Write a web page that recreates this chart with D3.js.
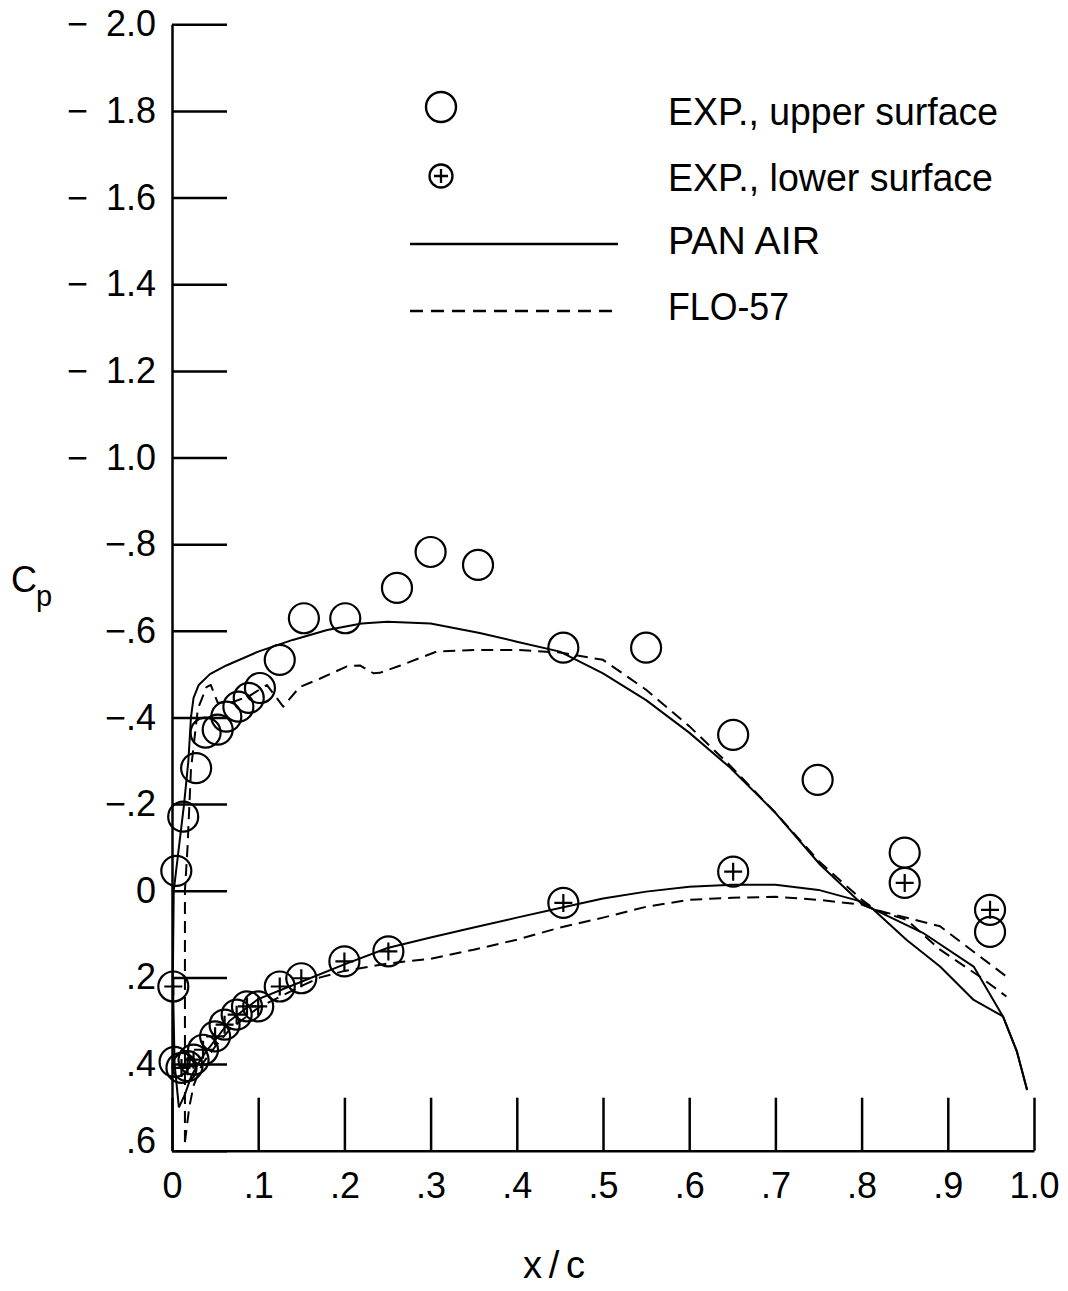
<!DOCTYPE html>
<html>
<head>
<meta charset="utf-8">
<script src="https://cdn.jsdelivr.net/npm/d3@7"></script>
<style>
  html, body { margin: 0; padding: 0; background: #fff; }
  svg { display: block; }
  text { font-family: "Liberation Sans", Arial, sans-serif; fill: #000; }
</style>
</head>
<body>
<svg id="chart" width="1068" height="1291"></svg>
<script>
// Chordwise pressure distribution, Cp vs x/c

// Experimental data, upper surface  [x/c, Cp]
const expUpper = [
  [0.003, 0.395], [0.005, -0.046], [0.013, -0.171], [0.028, -0.283],
  [0.039, -0.365], [0.053, -0.372], [0.063, -0.402], [0.077, -0.425],
  [0.089, -0.445], [0.102, -0.468], [0.125, -0.533], [0.153, -0.629],
  [0.201, -0.629], [0.261, -0.699], [0.300, -0.782], [0.355, -0.752],
  [0.454, -0.561], [0.550, -0.561], [0.651, -0.360], [0.749, -0.256],
  [0.850, -0.088], [0.949, 0.095]
];

// Experimental data, lower surface  [x/c, Cp]
const expLower = [
  [0.0015, 0.221], [0.011, 0.409], [0.018, 0.405], [0.025, 0.390],
  [0.036, 0.367], [0.050, 0.336], [0.061, 0.309], [0.075, 0.286],
  [0.087, 0.267], [0.100, 0.267], [0.125, 0.221], [0.150, 0.202],
  [0.200, 0.163], [0.251, 0.140], [0.454, 0.028], [0.651, -0.044],
  [0.850, -0.018], [0.949, 0.044]
];

// PAN AIR, upper surface
const panAirUpper = [
  [0.008, 0.50], [0.003, 0.40], [0.001, 0.20], [0.002, 0.00],
  [0.008, -0.10], [0.014, -0.20], [0.019, -0.30], [0.022, -0.40],
  [0.025, -0.445], [0.031, -0.475], [0.044, -0.500], [0.063, -0.520],
  [0.100, -0.552], [0.140, -0.579], [0.180, -0.602], [0.220, -0.617],
  [0.250, -0.621], [0.300, -0.617], [0.357, -0.595], [0.400, -0.575],
  [0.450, -0.552], [0.500, -0.502], [0.550, -0.440], [0.600, -0.365],
  [0.647, -0.285], [0.700, -0.180], [0.752, -0.060], [0.800, 0.030],
  [0.813, 0.042], [0.852, 0.113], [0.891, 0.175], [0.930, 0.252],
  [0.964, 0.290], [0.980, 0.370], [0.992, 0.460]
];

// PAN AIR, lower surface
const panAirLower = [
  [0.008, 0.50], [0.015, 0.47], [0.022, 0.43], [0.030, 0.40],
  [0.040, 0.37], [0.050, 0.345], [0.067, 0.300], [0.100, 0.250],
  [0.150, 0.210], [0.200, 0.170], [0.250, 0.132], [0.300, 0.108],
  [0.350, 0.085], [0.400, 0.062], [0.450, 0.040], [0.500, 0.018],
  [0.550, 0.002], [0.600, -0.009], [0.650, -0.014], [0.700, -0.014],
  [0.750, -0.002], [0.800, 0.025], [0.813, 0.042], [0.871, 0.097],
  [0.930, 0.175], [0.964, 0.290], [0.980, 0.370], [0.992, 0.460]
];

// FLO-57, upper surface
const flo57Upper = [
  [0.015, 0.58], [0.015, 0.30], [0.015, 0.00], [0.018, -0.10],
  [0.022, -0.28], [0.030, -0.42], [0.040, -0.470], [0.045, -0.475],
  [0.053, -0.434], [0.070, -0.435], [0.090, -0.450], [0.110, -0.475],
  [0.129, -0.425], [0.134, -0.437], [0.148, -0.470], [0.172, -0.490],
  [0.203, -0.518], [0.218, -0.520], [0.234, -0.502], [0.241, -0.503],
  [0.265, -0.520], [0.307, -0.552], [0.357, -0.556], [0.400, -0.556],
  [0.450, -0.550], [0.500, -0.533], [0.550, -0.464], [0.600, -0.380],
  [0.647, -0.290], [0.700, -0.180], [0.752, -0.065], [0.800, 0.020],
  [0.816, 0.044], [0.852, 0.067], [0.891, 0.136], [0.937, 0.198],
  [0.968, 0.244]
];

// FLO-57, lower surface
const flo57Lower = [
  [0.015, 0.58], [0.020, 0.50], [0.025, 0.45], [0.035, 0.40],
  [0.050, 0.36], [0.067, 0.32], [0.100, 0.270], [0.150, 0.220],
  [0.172, 0.200], [0.200, 0.185], [0.250, 0.168], [0.300, 0.157],
  [0.350, 0.136], [0.400, 0.113], [0.450, 0.085], [0.500, 0.062],
  [0.550, 0.037], [0.600, 0.021], [0.650, 0.016], [0.700, 0.014],
  [0.750, 0.021], [0.800, 0.032], [0.816, 0.044], [0.891, 0.082],
  [0.968, 0.198]
];

// Axis ticks and labels
const xTicks = [0, 0.1, 0.2, 0.3, 0.4, 0.5, 0.6, 0.7, 0.8, 0.9, 1.0];
const xTickLabels = ["0", ".1", ".2", ".3", ".4", ".5", ".6", ".7", ".8", ".9", "1.0"];
const yTicks = [-2.0, -1.8, -1.6, -1.4, -1.2, -1.0, -0.8, -0.6, -0.4, -0.2, 0, 0.2, 0.4, 0.6];
const yTickLabels = ["\u2212\u20022.0", "\u2212\u20021.8", "\u2212\u20021.6", "\u2212\u20021.4",
  "\u2212\u20021.2", "\u2212\u20021.0", "\u2212.8", "\u2212.6", "\u2212.4", "\u2212.2",
  "0", ".2", ".4", ".6"];

// Legend entries
const legendLabels = ["EXP., upper surface", "EXP., lower surface", "PAN AIR", "FLO-57"];

const svg = d3.select("#chart");

const x = d3.scaleLinear().domain([0, 1]).range([172, 1034]);
const y = d3.scaleLinear().domain([-2.0, 0.6]).range([24.3, 1150.7]);

const AXIS_W = 2.5;
const LINE_W = 2;
const R = 15;

// Left axis: ticks point into the plot
const yAxis = d3.axisLeft(y)
  .tickValues(yTicks)
  .tickFormat((d, i) => yTickLabels[i])
  .tickSizeInner(-55)
  .tickSizeOuter(0)
  .tickPadding(16);

const gy = svg.append("g").attr("transform", `translate(${x(0)},0)`).call(yAxis);
gy.select(".domain").attr("stroke", "#000").attr("stroke-width", AXIS_W);
gy.selectAll(".tick line").attr("stroke", "#000").attr("stroke-width", AXIS_W);
gy.selectAll(".tick text")
  .attr("font-family", "'Liberation Sans', Arial, sans-serif")
  .attr("font-size", 36)
  .attr("fill", "#000")
  .attr("dy", (d) => d === 0.6 ? "0.05em" : "0.32em");

// Bottom axis: ticks point upward
const xAxis = d3.axisBottom(x)
  .tickValues(xTicks)
  .tickFormat((d, i) => xTickLabels[i])
  .tickSizeInner(-53)
  .tickSizeOuter(0)
  .tickPadding(22);

const gx = svg.append("g").attr("transform", `translate(0,${y(0.6)})`).call(xAxis);
gx.select(".domain").attr("stroke", "#000").attr("stroke-width", AXIS_W);
gx.selectAll(".tick line").attr("stroke", "#000").attr("stroke-width", AXIS_W);
gx.selectAll(".tick text")
  .attr("font-family", "'Liberation Sans', Arial, sans-serif")
  .attr("font-size", 36)
  .attr("fill", "#000");

// Axis titles
svg.append("text")
  .attr("x", 554).attr("y", 1278)
  .attr("text-anchor", "middle")
  .attr("font-size", 38)
  .attr("textLength", 62)
  .attr("lengthAdjust", "spacing")
  .text("x/c");

const cp = svg.append("text").attr("x", 11).attr("y", 592).attr("font-size", 36);
cp.append("tspan").text("C");
cp.append("tspan").attr("x", 36).attr("y", 606).attr("font-size", 29).text("p");

// Computed curves
const line = d3.line().x((d) => x(d[0])).y((d) => y(d[1])).curve(d3.curveLinear);

const curves = [
  { data: panAirUpper, dash: null },
  { data: panAirLower, dash: null },
  { data: flo57Upper, dash: "12 7" },
  { data: flo57Lower, dash: "12 7" }
];

svg.append("g").selectAll("path")
  .data(curves)
  .join("path")
  .attr("d", (c) => line(c.data))
  .attr("fill", "none")
  .attr("stroke", "#000")
  .attr("stroke-width", LINE_W)
  .attr("stroke-linejoin", "round")
  .attr("stroke-dasharray", (c) => c.dash);

// Experimental points
const gPts = svg.append("g");
gPts.selectAll("circle.up")
  .data(expUpper)
  .join("circle")
  .attr("class", "up")
  .attr("cx", (d) => x(d[0]))
  .attr("cy", (d) => y(d[1]))
  .attr("r", R)
  .attr("fill", "none")
  .attr("stroke", "#000")
  .attr("stroke-width", 2.2);

const lowG = gPts.selectAll("g.low")
  .data(expLower)
  .join("g")
  .attr("class", "low")
  .attr("transform", (d) => `translate(${x(d[0])},${y(d[1])})`);
lowG.append("circle")
  .attr("r", R)
  .attr("fill", "none")
  .attr("stroke", "#000")
  .attr("stroke-width", 2.2);
lowG.append("path")
  .attr("d", `M${-R * 0.6},0H${R * 0.6}M0,${-R * 0.6}V${R * 0.6}`)
  .attr("stroke", "#000")
  .attr("stroke-width", 2.2);

// Legend
const leg = svg.append("g");
const legTextX = 668;
const legBase = [125, 191, 254, 320];
const legWidths = [330, 325, 152, 121];

leg.append("circle").attr("cx", 441).attr("cy", 107).attr("r", 15)
  .attr("fill", "none").attr("stroke", "#000").attr("stroke-width", 2.4);
leg.append("circle").attr("cx", 441).attr("cy", 176).attr("r", 11.5)
  .attr("fill", "none").attr("stroke", "#000").attr("stroke-width", 2.3);
leg.append("path").attr("d", "M434,176H448M441,169V183")
  .attr("stroke", "#000").attr("stroke-width", 2.3);
leg.append("line").attr("x1", 410).attr("x2", 618).attr("y1", 244).attr("y2", 244)
  .attr("stroke", "#000").attr("stroke-width", 2.5);
leg.append("line").attr("x1", 410).attr("x2", 612).attr("y1", 311).attr("y2", 311)
  .attr("stroke", "#000").attr("stroke-width", 2.5).attr("stroke-dasharray", "13 8");

// Legend labels in a tall, narrow setting
leg.selectAll("text")
  .data(legendLabels)
  .join("text")
  .attr("x", legTextX)
  .attr("y", (d, i) => legBase[i])
  .attr("font-size", 38)
  .attr("textLength", (d, i) => legWidths[i])
  .attr("lengthAdjust", "spacingAndGlyphs")
  .text((d) => d);
</script>
</body>
</html>
